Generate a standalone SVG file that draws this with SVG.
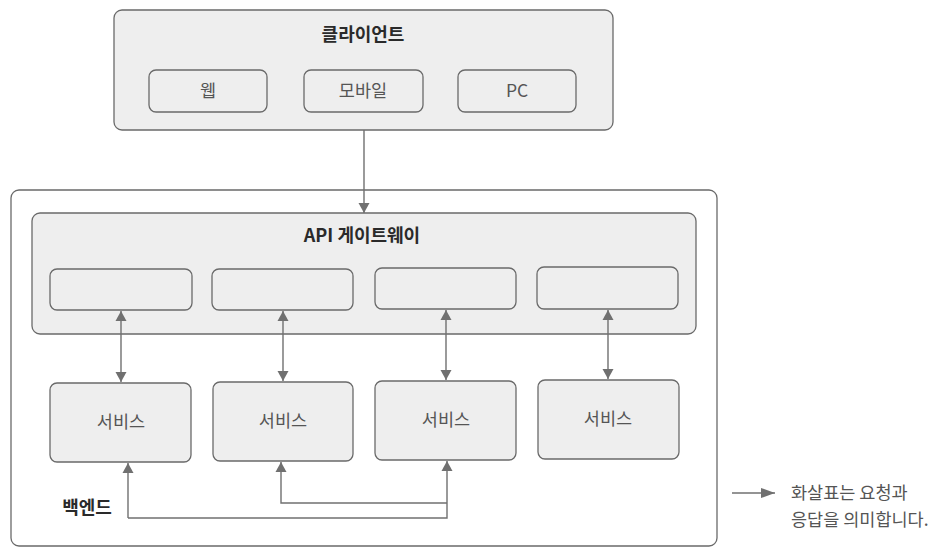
<svg xmlns="http://www.w3.org/2000/svg" width="947" height="558" viewBox="0 0 947 558">
<defs>
<style>
.box{fill:#eeeeee;stroke:#6a6a6a;stroke-width:1.3}
.outer{fill:#ffffff;stroke:#6a6a6a;stroke-width:1.3}
.title{font-family:"Noto Sans CJK KR","Noto Sans",sans-serif;font-weight:700;font-size:18px;fill:#2a2a2a;text-anchor:middle}
.lbl{font-family:"Noto Sans CJK KR","Noto Sans",sans-serif;font-size:17.5px;fill:#555555;text-anchor:middle}
.legend{font-family:"Noto Sans CJK KR","Noto Sans",sans-serif;font-size:17.5px;fill:#555555}
.conn{fill:none;stroke:#707070;stroke-width:1.4}
</style>
<marker id="ah" viewBox="0 0 10 14" refX="10" refY="7" markerWidth="10" markerHeight="14" markerUnits="userSpaceOnUse" orient="auto-start-reverse">
<path d="M0,1.5 L10,7 L0,12.5 Z" fill="#707070"/>
</marker>
<marker id="ahl" viewBox="0 0 14 12" refX="14" refY="6" markerWidth="14" markerHeight="12" markerUnits="userSpaceOnUse" orient="auto">
<path d="M0,1 L14,6 L0,11 Z" fill="#707070"/>
</marker>
</defs>

<g id="client">
<rect class="box" x="114" y="10" width="499" height="120" rx="8"/>
<text class="title" x="363" y="41">클라이언트</text>
</g>
<g id="web"><rect class="box" x="149" y="70" width="118" height="42" rx="7"/><text class="lbl" x="208" y="97">웹</text></g>
<g id="mobile"><rect class="box" x="304" y="70" width="119" height="42" rx="7"/><text class="lbl" x="363" y="97">모바일</text></g>
<g id="pc"><rect class="box" x="458" y="70" width="118" height="42" rx="7"/><text class="lbl" x="517" y="97">PC</text></g>

<g id="backend">
<rect class="outer" x="11" y="190" width="706" height="356" rx="8"/>
<text class="title" x="87" y="514">백엔드</text>
</g>

<g id="gateway">
<rect class="box" x="32" y="213" width="664" height="121" rx="8"/>
<text class="title" x="362" y="242">API 게이트웨이</text>
</g>
<g id="gw1"><rect class="box" x="50" y="269" width="142" height="41" rx="7"/></g>
<g id="gw2"><rect class="box" x="212" y="269" width="141" height="41" rx="7"/></g>
<g id="gw3"><rect class="box" x="375" y="268" width="141" height="41" rx="7"/></g>
<g id="gw4"><rect class="box" x="537" y="267" width="141" height="42" rx="7"/></g>

<g id="svc1"><rect class="box" x="50" y="383" width="141" height="79" rx="7"/><text class="lbl" x="121" y="428">서비스</text></g>
<g id="svc2"><rect class="box" x="213" y="382" width="140" height="79" rx="7"/><text class="lbl" x="283" y="427">서비스</text></g>
<g id="svc3"><rect class="box" x="375" y="381" width="141" height="79" rx="7"/><text class="lbl" x="446" y="426">서비스</text></g>
<g id="svc4"><rect class="box" x="538" y="380" width="141" height="79" rx="7"/><text class="lbl" x="608" y="425">서비스</text></g>

<g id="connectors">
<line class="conn" x1="364" y1="130" x2="364" y2="213" marker-end="url(#ah)"/>
<line class="conn" x1="121" y1="311" x2="121" y2="382" marker-start="url(#ah)" marker-end="url(#ah)"/>
<line class="conn" x1="283" y1="311" x2="283" y2="381" marker-start="url(#ah)" marker-end="url(#ah)"/>
<line class="conn" x1="446" y1="310" x2="446" y2="380" marker-start="url(#ah)" marker-end="url(#ah)"/>
<line class="conn" x1="608" y1="310" x2="608" y2="379" marker-start="url(#ah)" marker-end="url(#ah)"/>
<path class="conn" d="M128,518 H447 V461" marker-end="url(#ah)"/>
<line class="conn" x1="128" y1="518" x2="128" y2="463" marker-end="url(#ah)"/>
<path class="conn" d="M447,503 H281 V462" marker-end="url(#ah)"/>
<line class="conn" x1="732" y1="493" x2="775" y2="493" marker-end="url(#ahl)"/>
</g>

<g id="legend">
<text class="legend" x="791" y="499">화살표는 요청과</text>
<text class="legend" x="791" y="526">응답을 의미합니다.</text>
</g>
</svg>
